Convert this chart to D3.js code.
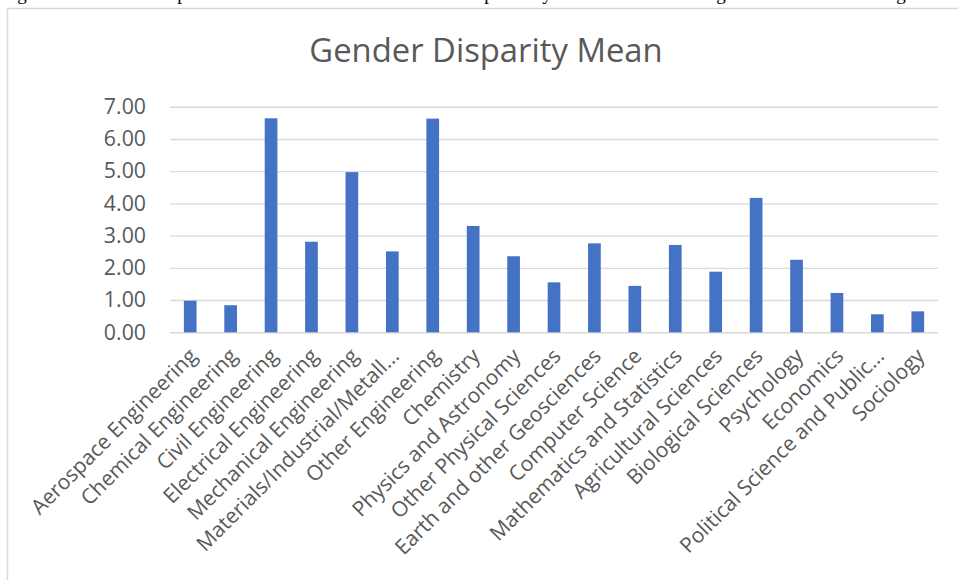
<!doctype html>
<html>
<head>
<meta charset="utf-8" />
<script src="https://d3js.org/d3.v7.min.js"></script>
<style>
  body { margin: 0; background: #fff; overflow: hidden; }
  text { font-family: "Open Sans", sans-serif; fill: #595959; }
</style>
</head>
<body>
<script>
// chart data
var categories = [
  "Aerospace Engineering", "Chemical Engineering", "Civil Engineering",
  "Electrical Engineering", "Mechanical Engineering", "Materials/Industrial/Metall...",
  "Other Engineering", "Chemistry", "Physics and Astronomy", "Other Physical Sciences",
  "Earth and other Geosciences", "Computer Science", "Mathematics and Statistics",
  "Agricultural Sciences", "Biological Sciences", "Psychology", "Economics",
  "Political Science and Public...", "Sociology"
];
var means = [0.98, 0.84, 6.64, 2.81, 4.97, 2.51, 6.63, 3.30, 2.36, 1.55,
             2.76, 1.44, 2.71, 1.88, 4.17, 2.25, 1.22, 0.56, 0.65];
var yTicks = [0, 1, 2, 3, 4, 5, 6, 7];
var title = "Gender Disparity Mean";

// descenders of the document line cut off above the chart
var cutLetters = ["g", "p", "p", "y", "g", "g"];
var cutX = [22, 182, 489, 547, 721, 901];

var W = 958, H = 580;
var svg = d3.select("body").append("svg").attr("width", W).attr("height", H);

svg.selectAll("text.cut")
  .data(cutLetters)
  .enter().append("text")
  .attr("class", "cut")
  .attr("x", (d, i) => cutX[i])
  .attr("y", 0)
  .attr("text-anchor", "middle")
  .style("font-family", "'Liberation Serif', serif")
  .style("font-size", "19px")
  .style("fill", "#000")
  .text(d => d);

// chart area frame (runs off the right and bottom of the picture)
svg.append("rect")
  .attr("x", 7.5).attr("y", 8.5)
  .attr("width", 1000).attr("height", 700)
  .attr("fill", "none")
  .attr("stroke", "#d9d9d9")
  .attr("stroke-width", 1.5);

var x = d3.scaleBand().domain(categories).range([170, 938])
  .paddingInner(0.686).paddingOuter(0.343);
var y = d3.scaleLinear().domain([0, 7]).range([332.3, 106.7]);

svg.append("text")
  .attr("x", 486).attr("y", 62)
  .attr("text-anchor", "middle")
  .style("font-size", "32.8px")
  .text(title);

// gridlines
var yAxis = d3.axisLeft(y).tickValues(yTicks).tickSize(-(938 - 170))
  .tickPadding(24).tickFormat(d3.format(".2f"));
var gy = svg.append("g").attr("transform", "translate(170,0)").call(yAxis);
gy.select(".domain").remove();
gy.selectAll("line").attr("stroke", "#d9d9d9").attr("stroke-width", 1.4);
gy.selectAll("text").style("font-size", "21.3px").attr("fill", "#595959");

// bars
svg.selectAll("rect.bar")
  .data(means)
  .enter().append("rect")
  .attr("class", "bar")
  .attr("x", (d, i) => x(categories[i]))
  .attr("width", x.bandwidth())
  .attr("y", d => y(d))
  .attr("height", d => y(0) - y(d))
  .attr("fill", "#4472c4");

// category labels
var xAxis = d3.axisBottom(x).tickSize(0).tickPadding(0);
var gx = svg.append("g").attr("transform", "translate(0,332.3)").call(xAxis);
gx.select(".domain").remove();
gx.selectAll("text")
  .style("font-size", "21px")
  .attr("fill", "#595959")
  .attr("text-anchor", "end")
  .attr("dy", "0")
  .attr("y", 0)
  .attr("transform", "translate(8,25) rotate(-45)");
</script>
</body>
</html>
